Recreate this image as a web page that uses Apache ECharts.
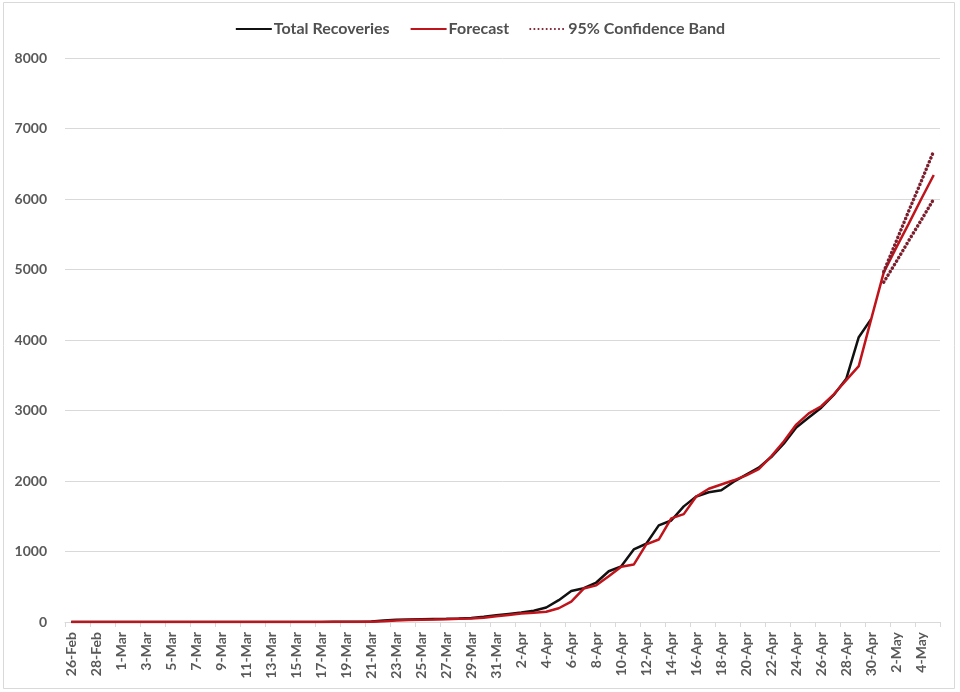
<!DOCTYPE html>
<html>
<head>
<meta charset="utf-8">
<script src="https://cdn.jsdelivr.net/npm/echarts@6/dist/echarts.min.js"></script>
<style>
  html, body { margin: 0; padding: 0; background: #ffffff; }
  #chart { width: 960px; height: 692px; }
</style>
</head>
<body>
<div id="chart"></div>
<script>
// Daily dates, 26 Feb to 5 May 2020
const dates = [
  '26-Feb','27-Feb','28-Feb','29-Feb',
  '1-Mar','2-Mar','3-Mar','4-Mar','5-Mar','6-Mar','7-Mar','8-Mar','9-Mar','10-Mar',
  '11-Mar','12-Mar','13-Mar','14-Mar','15-Mar','16-Mar','17-Mar','18-Mar','19-Mar','20-Mar',
  '21-Mar','22-Mar','23-Mar','24-Mar','25-Mar','26-Mar','27-Mar','28-Mar','29-Mar','30-Mar','31-Mar',
  '1-Apr','2-Apr','3-Apr','4-Apr','5-Apr','6-Apr','7-Apr','8-Apr','9-Apr','10-Apr',
  '11-Apr','12-Apr','13-Apr','14-Apr','15-Apr','16-Apr','17-Apr','18-Apr','19-Apr','20-Apr',
  '21-Apr','22-Apr','23-Apr','24-Apr','25-Apr','26-Apr','27-Apr','28-Apr','29-Apr','30-Apr',
  '1-May','2-May','3-May','4-May','5-May'
];

// Cumulative recoveries observed (26 Feb - 30 Apr)
const totalRecoveries = [
  0, 0, 0, 0, 0, 0, 0, 0, 0, 0,
  0, 0, 0, 0, 0, 0, 0, 0, 0, 0,
  1, 2, 3, 5, 8, 20, 32, 36, 39, 42,
  45, 50, 58, 75, 95, 115, 135, 160, 205, 310,
  440, 480, 560, 720, 790, 1030, 1110, 1370, 1440, 1640,
  1780, 1840, 1870, 1990, 2090, 2190, 2340, 2530, 2760, 2900,
  3040, 3220, 3450, 4040, 4300
];

// Model forecast (26 Feb - 5 May)
const forecast = [
  0, 0, 0, 0, 0, 0, 0, 0, 0, 0,
  0, 0, 0, 0, 0, 0, 0, 0, 0, 0,
  0, 0, 0, 0, 5, 10, 20, 28, 33, 36,
  40, 45, 50, 60, 80, 100, 120, 130, 145, 195,
  290, 475, 520, 650, 785, 815, 1100, 1170, 1470, 1530,
  1780, 1890, 1950, 2010, 2080, 2170, 2350, 2560, 2800, 2960,
  3060, 3230, 3430, 3630, 4300, 4960, 5310, 5650, 6000, 6340
];

// 95% confidence band around the forecast, 1 May - 5 May
const bandUpper = [4970, 5400, 5830, 6250, 6680];
const bandLower = [4820, 5110, 5410, 5700, 6000];
const bandStart = 65;

const pad = (arr, start) => dates.map((d, i) => (i >= start && i - start < arr.length) ? arr[i - start] : null);

const labelFont = 'Lato, "Open Sans", sans-serif';
const textGray = '#595959';
const gridGray = '#d9d9d9';
const bandColor = '#7b1f2e';
const dotted = [0.1, 4];

const chart = echarts.init(document.getElementById('chart'), null, { renderer: 'canvas' });

chart.setOption({
  animation: false,
  backgroundColor: '#ffffff',
  graphic: [{
    type: 'rect',
    shape: { x: 3.5, y: 2.5, width: 951, height: 686 },
    style: { fill: null, stroke: gridGray, lineWidth: 1 },
    silent: true,
    z: -1
  }],
  legend: {
    top: 16,
    left: 'center',
    itemWidth: 36,
    itemHeight: 14,
    itemGap: 20,
    itemStyle: { opacity: 0 },
    textStyle: { color: '#505050', fontFamily: labelFont, fontWeight: 'bold', fontSize: 16, padding: [0, 0, 0, -3] },
    data: ['Total Recoveries', 'Forecast', '95% Confidence Band']
  },
  grid: { left: 65, right: 20, top: 58, bottom: 70 },
  xAxis: {
    type: 'category',
    data: dates,
    boundaryGap: true,
    axisLine: { lineStyle: { color: gridGray, width: 1 } },
    axisTick: { show: true, interval: 1, length: 5, lineStyle: { color: gridGray } },
    axisLabel: {
      interval: 1,
      rotate: 90,
      margin: 10,
      color: textGray,
      fontFamily: labelFont,
      fontWeight: 'bold',
      fontSize: 14
    },
    splitLine: { show: false }
  },
  yAxis: {
    type: 'value',
    min: 0,
    max: 8000,
    interval: 1000,
    axisLine: { show: false },
    axisTick: { show: false },
    axisLabel: {
      margin: 18,
      color: textGray,
      fontFamily: labelFont,
      fontWeight: 'bold',
      fontSize: 14,
      formatter: v => String(v)
    },
    splitLine: { lineStyle: { color: gridGray, width: 1 } }
  },
  series: [
    {
      name: 'Total Recoveries',
      type: 'line',
      data: totalRecoveries,
      symbol: 'none',
      lineStyle: { color: '#111111', width: 2.5 },
      itemStyle: { color: '#111111' },
      z: 2
    },
    {
      name: 'Forecast',
      type: 'line',
      data: forecast,
      symbol: 'none',
      lineStyle: { color: '#c0141c', width: 2.5 },
      itemStyle: { color: '#c0141c' },
      z: 3
    },
    {
      name: '95% Confidence Band',
      type: 'line',
      data: pad(bandUpper, bandStart),
      symbol: 'none',
      connectNulls: false,
      lineStyle: { color: bandColor, width: 3.5, type: dotted, cap: 'round' },
      itemStyle: { color: bandColor },
      z: 4
    },
    {
      name: '95% Confidence Band',
      type: 'line',
      data: pad(bandLower, bandStart),
      symbol: 'none',
      connectNulls: false,
      lineStyle: { color: bandColor, width: 3.5, type: dotted, cap: 'round' },
      itemStyle: { color: bandColor },
      z: 4
    }
  ]
});
</script>
</body>
</html>
